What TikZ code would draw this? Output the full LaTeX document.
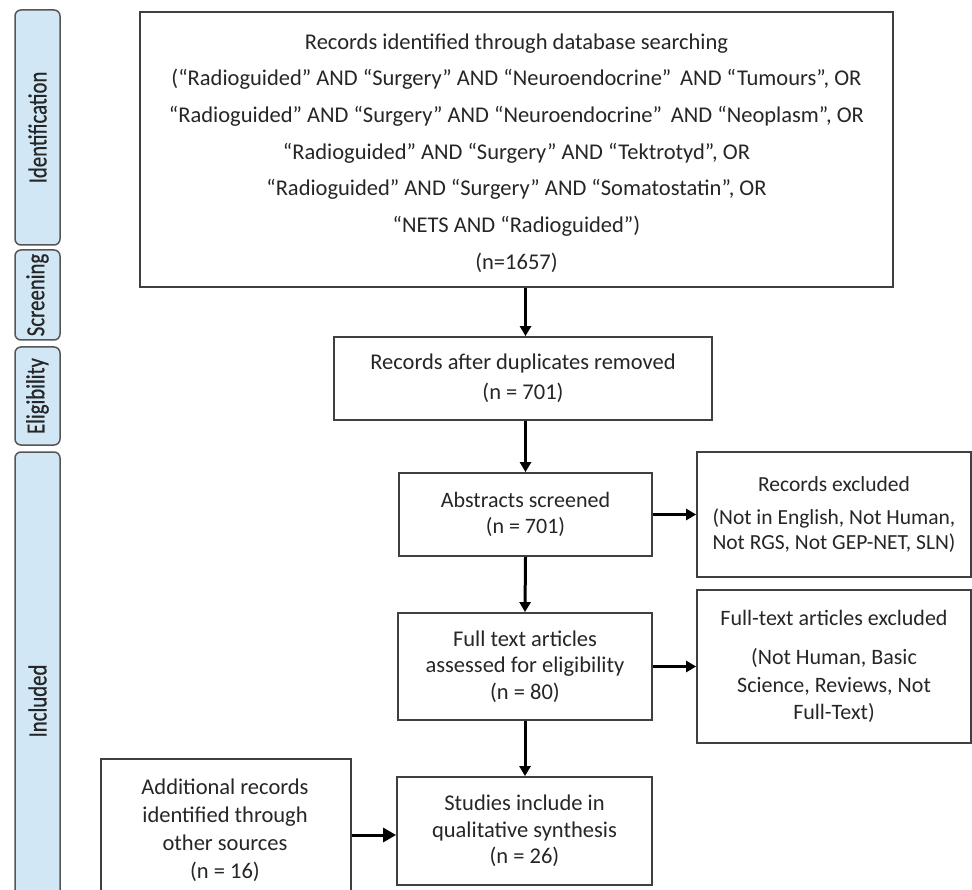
\documentclass[tikz,border=0pt]{standalone}
\usepackage{fontspec}
\setmainfont{Carlito}
\newfontfamily\phasefont[FakeStretch=0.8,FakeBold=0.6]{Carlito}
\usetikzlibrary{arrows.meta}
\definecolor{phasefill}{HTML}{D2E7F6}
\definecolor{phaseline}{HTML}{555555}
\definecolor{boxline}{HTML}{404040}
\tikzset{
  box/.style={draw=boxline, line width=1.8pt, fill=white, inner sep=0pt, align=center, text=black!85},
  phase/.style={draw=phaseline, line width=1.5pt, fill=phasefill, rounded corners=6pt, inner sep=0pt, rotate=90, font=\phasefont\fontsize{26}{28}\selectfont, text=black!85},
  flow/.style={line width=3pt, -{Triangle[length=10pt,width=11pt]}},
  bigtxt/.style={font=\fontsize{22.5}{36.7}\selectfont},
  smalltxt/.style={font=\fontsize{22.5}{26.7}\selectfont}
}
\begin{document}
\begin{tikzpicture}[x=1pt,y=-1pt]
\useasboundingbox (0,0) rectangle (972,890);
\clip (0,0) rectangle (972,890);
% phase labels
\node[phase, minimum width=235, minimum height=45] (pid) at (37.5,127.5) {Identification};
\node[phase, minimum width=90, minimum height=45] (psc) at (37.5,295) {Screening};
\node[phase, minimum width=98, minimum height=45] (pel) at (37.5,396) {Eligibility};
\node[phase, minimum width=498, minimum height=45] (pin) at (37.5,701) {Included};
% boxes
\node[box, minimum width=753, minimum height=275] (ident) at (516.5,149.5) {};
\node[align=center, text=black!85, bigtxt] (identtxt) at (516.5,153) {%
Records identified through database searching\\
(“Radioguided” AND “Surgery” AND “Neuroendocrine”\, AND “Tumours”, OR\\
“Radioguided” AND “Surgery” AND “Neuroendocrine”\, AND “Neoplasm”, OR\\
“Radioguided” AND “Surgery” AND “Tektrotyd”, OR\\
“Radioguided” AND “Surgery” AND “Somatostatin”, OR\\
“NETS AND “Radioguided”)\\
(n=1657)};
\node[box, font=\fontsize{22.5}{30}\selectfont, minimum width=378, minimum height=83] (dup) at (523,378.5) {Records after duplicates removed\\(n = 701)};
\node[box, font=\fontsize{22}{26}\selectfont, minimum width=253, minimum height=83] (abs) at (525.5,514.5) {Abstracts screened\\(n = 701)};
\node[box, font=\fontsize{21.5}{25}\selectfont, minimum width=274, minimum height=125] (rex) at (834,514.5) {Records excluded\\[8pt](Not in English, Not Human,\\Not RGS, Not GEP-NET, SLN)};
\node[box, smalltxt, minimum width=254, minimum height=107] (full) at (525,666.5) {Full text articles\\assessed for eligibility\\(n = 80)};
\node[box, font=\fontsize{22}{27.5}\selectfont, minimum width=274, minimum height=153] (fex) at (834,666.5) {Full-text articles excluded\\[12pt](Not Human, Basic\\Science, Reviews, Not\\Full-Text)};
\node[box, smalltxt, minimum width=255, minimum height=108] (stud) at (524.5,831) {Studies include in\\qualitative synthesis\\(n = 26)};
\node[box, minimum width=250, minimum height=180, anchor=north west] (add) at (100,758) {};
\node[align=center, text=black!85, font=\fontsize{22.5}{28}\selectfont] (addtxt) at (225,830) {Additional records\\identified through\\other sources\\(n = 16)};
\coordinate (ay) at (0,835);
% arrows
\draw[flow] (ident.south -| abs) -- (dup.north -| abs);
\draw[flow] (dup.south -| abs) -- (abs.north);
\draw[flow] (abs.south) -- (full.north);
\draw[flow] (full.south) -- (full.south |- stud.north);
\draw[flow] (abs.east) -- (abs.east -| rex.west);
\draw[flow] (full.east) -- (full.east -| fex.west);
\draw[line width=3pt, -{Triangle[length=13pt,width=14pt]}] (add.east |- ay) -- (stud.west |- ay);
\end{tikzpicture}
\end{document}
